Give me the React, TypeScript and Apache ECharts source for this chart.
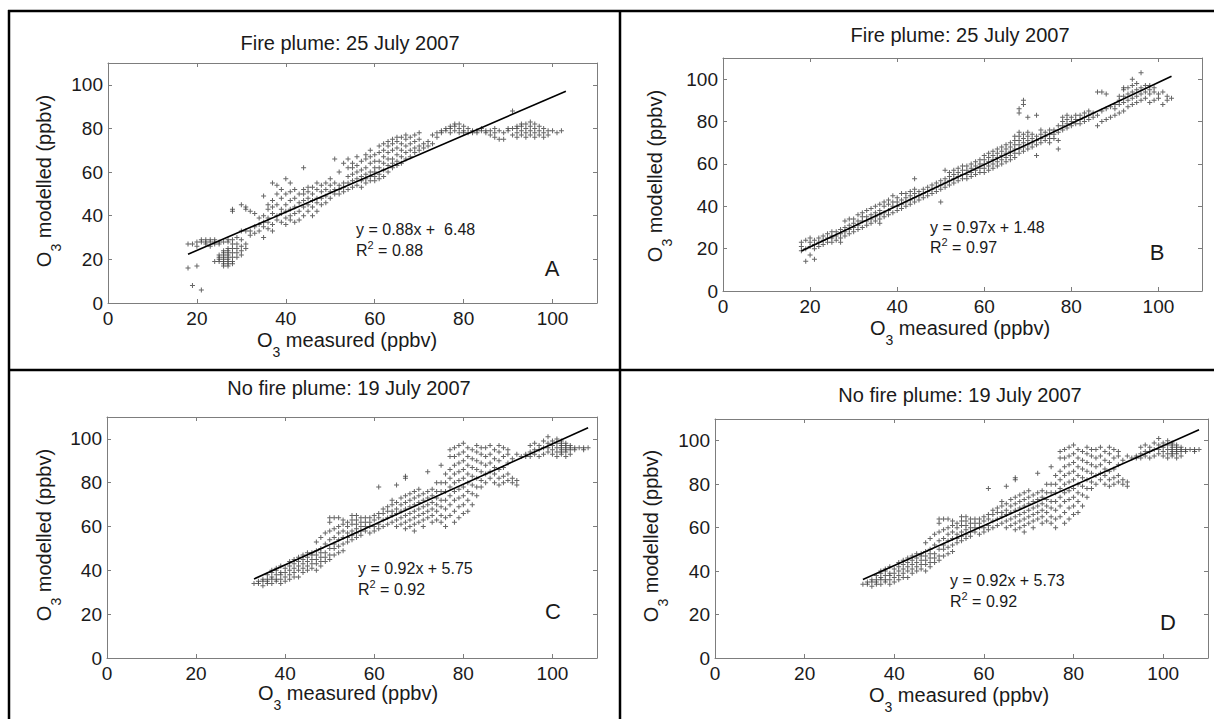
import React, { useEffect, useRef } from "react";
import * as echarts from "echarts";

const FONT = "'Liberation Sans', Arial, Helvetica, sans-serif";

// Axis range / ticks
const AXIS_MIN = 0;
const AXIS_MAX = 110;
const AXIS_STEP = 20;

// Panel texts
const titles = [
  "Fire plume: 25 July 2007",
  "Fire plume: 25 July 2007",
  "No fire plume: 19 July 2007",
  "No fire plume: 19 July 2007",
];
const equations = ["y = 0.88x +  6.48", "y = 0.97x + 1.48", "y = 0.92x + 5.75", "y = 0.92x + 5.73"];
const r2Values = ["0.88", "0.97", "0.92", "0.92"];
const letters = ["A", "B", "C", "D"];

// Measured (x) columns with modelled (y) values
const colsA: [number, number[]][] = [
  [18, [16, 27]], [19, [8, 27]], [20, [17, 26, 28]], [21, [6, 28, 29]], [22, [27, 28, 29]],
  [23, [26, 28, 29]], [24, [19, 27, 28, 29]], [25, [19, 20, 21, 22, 27, 28]],
  [26, [17, 18, 19, 20, 21, 22, 23, 24, 28]], [27, [17, 18, 19, 20, 21, 22, 23, 24, 25, 28, 29]],
  [28, [18, 19, 21, 23, 25, 27, 29, 42, 43]], [29, [21, 23, 25, 27, 30]], [30, [22, 24, 26, 29, 33, 45]],
  [31, [25, 27, 33, 43, 44]], [32, [31, 33, 42]], [33, [32, 35, 41]], [34, [33, 36, 39]],
  [35, [30, 35, 37, 40, 49]], [36, [34, 37, 39, 43, 45]], [37, [33, 36, 41, 44, 47, 55]],
  [38, [38, 40, 45, 50, 54]], [39, [37, 41, 43, 48, 52]], [40, [36, 39, 42, 45, 50, 57]],
  [41, [38, 40, 43, 47, 51, 55]], [42, [37, 41, 44, 48, 52]], [43, [38, 42, 46, 50]],
  [44, [40, 44, 47, 50, 52, 62]], [45, [42, 45, 48, 51, 53]], [46, [40, 44, 47, 50, 53]],
  [47, [42, 46, 48, 52, 55]], [48, [45, 48, 51, 54]], [49, [46, 49, 52, 55]], [50, [48, 51, 54, 57]],
  [51, [50, 52, 55, 66]], [52, [50, 52, 54, 60]], [53, [51, 53, 55, 64]], [54, [52, 55, 58, 62, 66]],
  [55, [53, 56, 59, 62, 64]], [56, [54, 57, 60, 63, 67]], [57, [53, 56, 58, 61, 65]],
  [58, [55, 57, 59, 62, 66, 68]], [59, [56, 58, 60, 64, 67, 70]], [60, [56, 58, 60, 62, 65, 68]],
  [61, [57, 59, 62, 65, 69, 72]], [62, [58, 61, 64, 67, 70, 73]], [63, [60, 63, 66, 69, 72, 74]],
  [64, [62, 64, 66, 70, 73, 75]], [65, [63, 65, 68, 71, 74, 76]], [66, [64, 67, 70, 73, 76]],
  [67, [66, 69, 72, 75, 77]], [68, [67, 70, 73, 76]], [69, [69, 71, 74, 77]], [70, [70, 72, 75, 78]],
  [71, [71, 73]], [72, [72, 74]], [73, [73, 77]], [74, [76, 78]], [75, [78, 79]], [76, [79, 80]],
  [77, [78, 80, 81]], [78, [79, 81, 82]], [79, [78, 80, 82]], [80, [78, 79, 81]], [81, [78, 80]],
  [82, [78, 79]], [83, [78, 79]], [84, [79, 80]], [85, [78, 79]], [86, [77, 79]], [87, [76, 78, 80]],
  [88, [75, 79]], [89, [75, 78]], [90, [79, 80]], [91, [77, 80, 88]], [92, [76, 78, 80, 81]],
  [93, [77, 79, 81, 82]], [94, [76, 78, 80, 82]], [95, [77, 79, 81, 83]], [96, [76, 78, 80, 82]],
  [97, [77, 79, 81]], [98, [76, 78, 80]], [99, [77, 79]], [100, [79]], [101, [78]], [102, [79]],
];

const colsB: [number, number[]][] = [
  [18, [19, 21, 23]], [19, [14, 20, 24]], [20, [17, 21, 23, 25]], [21, [15, 20, 22, 24]], [22, [21, 23, 25]],
  [23, [22, 24, 26]], [24, [23, 25, 27]], [25, [23, 25, 26, 28]], [26, [24, 26, 28]], [27, [23, 25, 27, 29]],
  [28, [26, 28, 30, 33]], [29, [27, 29, 31, 34]], [30, [28, 30, 32, 34]], [31, [29, 31, 33, 36]],
  [32, [30, 33, 35, 37]], [33, [31, 33, 35, 38]], [34, [32, 34, 36, 39]], [35, [33, 35, 37, 40]],
  [36, [32, 34, 36, 38, 41]], [37, [35, 37, 40, 42]], [38, [36, 38, 41, 43]], [39, [37, 40, 42, 45]],
  [40, [38, 40, 42, 44]], [41, [39, 41, 43, 46]], [42, [40, 42, 44, 46]], [43, [41, 43, 45, 47]],
  [44, [42, 44, 46, 48, 53]], [45, [43, 45, 47]], [46, [44, 46, 48]], [47, [45, 47, 49]], [48, [46, 48, 50]],
  [49, [47, 49, 51]], [50, [42, 48, 50, 52]], [51, [49, 51, 53, 57]], [52, [50, 52, 54, 56]],
  [53, [51, 53, 55, 57]], [54, [52, 54, 56, 58]], [55, [53, 55, 57, 59]], [56, [53, 55, 57, 59]],
  [57, [54, 56, 58, 60]], [58, [55, 57, 59, 61]], [59, [56, 58, 60, 62]], [60, [56, 58, 60, 62, 64]],
  [61, [57, 59, 61, 63, 65]], [62, [58, 60, 62, 64, 66]], [63, [59, 61, 63, 65, 67]],
  [64, [60, 62, 64, 66, 68]], [65, [61, 63, 65, 67, 69]], [66, [62, 64, 66, 68, 70]],
  [67, [63, 65, 67, 69, 71, 73]], [68, [65, 67, 69, 71, 73, 75, 84, 86]], [69, [66, 68, 70, 72, 74, 88, 90]],
  [70, [67, 69, 71, 73, 75, 82]], [71, [68, 70, 72, 74]], [72, [64, 69, 71, 73, 83]], [73, [70, 72, 74, 76]],
  [74, [71, 73, 75]], [75, [70, 72, 74, 76]], [76, [72, 74, 76]], [77, [67, 71, 75, 78]],
  [78, [76, 78, 80, 82]], [79, [77, 79, 81, 83]], [80, [78, 80, 82]], [81, [79, 81, 83]], [82, [79, 81, 83]],
  [83, [80, 82, 84]], [84, [81, 83, 85]], [85, [82, 84]], [86, [78, 83, 94]], [87, [80, 85, 94]],
  [88, [81, 86, 93]], [89, [82, 87]], [90, [83, 86, 88]], [91, [84, 88, 90, 92]], [92, [85, 89, 92, 95, 96]],
  [93, [87, 90, 93, 96]], [94, [88, 91, 94, 97, 100]], [95, [89, 92, 95, 98]], [96, [90, 93, 96, 103]],
  [97, [91, 94, 97]], [98, [89, 93, 95, 97]], [99, [90, 94, 96]], [100, [91, 93]], [101, [88, 94]],
  [102, [90, 92]], [103, [91]],
];

const colsC: [number, number[]][] = [
  [33, [34]], [34, [34, 35]], [35, [33, 35, 36]], [36, [34, 35, 36, 38]], [37, [34, 36, 37, 39, 40]],
  [38, [35, 36, 38, 40, 41]], [39, [34, 36, 38, 39, 42]], [40, [35, 37, 39, 41]], [41, [36, 38, 40, 42, 44]],
  [42, [37, 39, 41, 43, 45]], [43, [37, 40, 42, 44, 46]], [44, [39, 41, 43, 45, 47]], [45, [40, 42, 44, 46, 48]],
  [46, [41, 43, 45, 47, 48]], [47, [40, 43, 45, 47, 49, 53]], [48, [42, 44, 46, 48, 50, 55]],
  [49, [44, 46, 48, 52, 57]], [50, [45, 47, 50, 54, 58, 62, 64]], [51, [47, 50, 52, 55, 59, 64]],
  [52, [48, 51, 54, 57, 60, 64]], [53, [49, 52, 55, 58, 61, 63]], [54, [53, 55, 57, 60, 62]],
  [55, [54, 56, 58, 61, 63, 65]], [56, [55, 57, 59, 61, 63, 65]], [57, [56, 58, 60, 62, 64]],
  [58, [58, 60, 62, 64]], [59, [57, 60, 62, 64]], [60, [58, 60, 63, 65]], [61, [59, 61, 64, 66, 78]],
  [62, [60, 63, 66, 68]], [63, [61, 64, 67, 69]], [64, [62, 65, 67, 70, 72]], [65, [60, 63, 66, 68, 71, 79]],
  [66, [61, 64, 67, 70, 73]], [67, [59, 62, 65, 68, 71, 74, 82, 83]], [68, [60, 63, 66, 69, 72, 75]],
  [69, [58, 61, 64, 67, 70, 73, 76]], [70, [62, 65, 68, 71, 74, 77]], [71, [60, 63, 66, 69, 72, 75]],
  [72, [64, 67, 70, 73, 76, 85]], [73, [62, 65, 68, 71, 74, 77]], [74, [63, 67, 70, 73, 76, 80]],
  [75, [62, 65, 69, 72, 76, 80, 88]], [76, [60, 64, 68, 72, 76, 80, 84]],
  [77, [65, 70, 74, 78, 82, 86, 92, 95]], [78, [62, 67, 72, 76, 80, 84, 88, 92, 96]],
  [79, [64, 69, 73, 77, 81, 85, 89, 93, 97]], [80, [66, 70, 74, 78, 82, 86, 90, 94, 98]],
  [81, [67, 72, 76, 80, 84, 88, 92, 96]], [82, [70, 75, 79, 83, 87, 91, 95]],
  [83, [74, 78, 82, 86, 90, 94, 97]], [84, [78, 81, 85, 89, 93, 96]], [85, [80, 84, 88, 92, 96]],
  [86, [82, 85, 89, 93, 97]], [87, [80, 84, 87, 91, 95]], [88, [79, 82, 86, 90, 94, 97]],
  [89, [80, 83, 87, 92, 96]], [90, [81, 84, 89, 93, 95]], [91, [80, 82, 91]], [92, [79, 81, 93]],
  [93, [92]], [94, [92, 93]], [95, [92, 94, 97]], [96, [93, 95, 98]], [97, [92, 95, 97]],
  [98, [93, 96, 99]], [99, [94, 96, 98, 101]], [100, [93, 95, 97, 99]], [101, [92, 94, 96, 98, 100]],
  [102, [93, 94, 95, 96, 97, 98, 99]], [103, [92, 94, 95, 96, 97, 98]], [104, [93, 95, 96, 97]],
  [105, [95, 96]], [106, [96]], [107, [95, 96]], [108, [96]],
];

const colsD: [number, number[]][] = colsC;

// Regression line end points
const fitA = [[18, 22.3], [103, 97.1]];
const fitB = [[18, 18.9], [103, 101.4]];
const fitC = [[33, 36.1], [108, 105.1]];
const fitD = [[33, 36.1], [108, 105.1]];

const panelCols = [colsA, colsB, colsC, colsD];
const panelFits = [fitA, fitB, fitC, fitD];

// Layout (pixels)
const grids = [
  { left: 108, top: 63, width: 489, height: 240 },
  { left: 723, top: 58, width: 479, height: 233 },
  { left: 107, top: 417, width: 490, height: 241 },
  { left: 715, top: 419, width: 493, height: 239 },
];
const titlePos = [[350, 43], [960, 35], [349, 388], [960, 395]];
const xTitlePos = [[347, 340], [960, 328], [348, 693], [959, 695]];
const yTitlePos = [[44, 181], [655, 176], [44, 535], [651, 536]];
const eqPos = [[356, 229, 250], [930, 227, 247], [358, 568, 589], [950, 580, 601]];
const letterPos = [[552, 268], [1157, 252], [553, 611], [1168, 622]];

const PLUS = "path://M2,0H3V2H5V3H3V5H2V3H0V2H2Z";
const AXIS_GRAY = "#7d7d7d";
const TEXT = "#1a1a1a";

function buildOption() {
  const xAxis: any[] = [];
  const yAxis: any[] = [];
  const series: any[] = [];
  const graphic: any[] = [];

  grids.forEach((_, i) => {
    const common = {
      type: "value",
      gridIndex: i,
      min: AXIS_MIN,
      max: AXIS_MAX,
      interval: AXIS_STEP,
      axisLine: { show: true, onZero: false, lineStyle: { color: AXIS_GRAY, width: 1 } },
      axisTick: { show: true, inside: true, length: 4, lineStyle: { color: AXIS_GRAY } },
      splitLine: { show: false },
    };
    const label = {
      show: true,
      fontSize: 19,
      color: TEXT,
      fontFamily: FONT,
      showMaxLabel: false,
    };
    xAxis.push({ ...common, position: "bottom", axisLabel: { ...label, margin: 6 } });
    xAxis.push({ ...common, position: "top", axisLabel: { show: false } });
    yAxis.push({ ...common, position: "left", axisLabel: { ...label, margin: 5 } });
    yAxis.push({ ...common, position: "right", axisLabel: { show: false } });

    const pts: number[][] = [];
    panelCols[i].forEach(([x, ys]) => ys.forEach((y) => pts.push([x, y])));
    series.push({
      type: "scatter",
      xAxisIndex: 2 * i,
      yAxisIndex: 2 * i,
      data: pts,
      symbol: PLUS,
      symbolSize: 5,
      itemStyle: { color: "#404040" },
      silent: true,
      z: 2,
    });
    series.push({
      type: "line",
      xAxisIndex: 2 * i,
      yAxisIndex: 2 * i,
      data: panelFits[i],
      symbol: "none",
      lineStyle: { color: "#000", width: 1.6 },
      silent: true,
      z: 3,
    });

    graphic.push({
      type: "text",
      x: titlePos[i][0],
      y: titlePos[i][1],
      style: { text: titles[i], fontSize: 20, fontFamily: FONT, fill: TEXT, align: "center", verticalAlign: "middle" },
    });
    graphic.push({
      type: "text",
      x: xTitlePos[i][0],
      y: xTitlePos[i][1],
      style: {
        text: "{o|O}{s|3}{o| measured (ppbv)}",
        align: "center",
        verticalAlign: "middle",
        rich: {
          o: { fontSize: 20, fontFamily: FONT, fill: TEXT, lineHeight: 38, verticalAlign: "middle" },
          s: { fontSize: 14, fontFamily: FONT, fill: TEXT, verticalAlign: "bottom" },
        },
      },
    });
    graphic.push({
      type: "text",
      x: yTitlePos[i][0],
      y: yTitlePos[i][1],
      rotation: Math.PI / 2,
      style: {
        text: "{o|O}{s|3}{o| modelled (ppbv)}",
        align: "center",
        verticalAlign: "middle",
        rich: {
          o: { fontSize: 20, fontFamily: FONT, fill: TEXT, lineHeight: 38, verticalAlign: "middle" },
          s: { fontSize: 14, fontFamily: FONT, fill: TEXT, verticalAlign: "bottom" },
        },
      },
    });
    graphic.push({
      type: "text",
      x: eqPos[i][0],
      y: eqPos[i][1],
      style: { text: equations[i], fontSize: 16, fontFamily: FONT, fill: TEXT, align: "left", verticalAlign: "middle" },
    });
    graphic.push({
      type: "text",
      x: eqPos[i][0],
      y: eqPos[i][2],
      style: {
        text: "{r|R}{p|2}{r| = " + r2Values[i] + "}",
        align: "left",
        verticalAlign: "middle",
        rich: {
          r: { fontSize: 16, fontFamily: FONT, fill: TEXT, lineHeight: 22, verticalAlign: "middle" },
          p: { fontSize: 11, fontFamily: FONT, fill: TEXT, verticalAlign: "top" },
        },
      },
    });
    graphic.push({
      type: "text",
      x: letterPos[i][0],
      y: letterPos[i][1],
      style: { text: letters[i], fontSize: 22, fontFamily: FONT, fill: TEXT, align: "center", verticalAlign: "middle" },
    });
  });

  // Figure frame lines
  const frame = { stroke: "#000", lineWidth: 2.5 };
  graphic.push({ type: "line", shape: { x1: 8, y1: 11, x2: 1214, y2: 11 }, style: frame });
  graphic.push({ type: "line", shape: { x1: 9, y1: 10, x2: 9, y2: 719 }, style: frame });
  graphic.push({ type: "line", shape: { x1: 8, y1: 370, x2: 1214, y2: 370 }, style: frame });
  graphic.push({ type: "line", shape: { x1: 620, y1: 10, x2: 620, y2: 719 }, style: frame });

  return {
    animation: false,
    backgroundColor: "#ffffff",
    grid: grids.map((g) => ({ ...g, containLabel: false })),
    xAxis,
    yAxis,
    series,
    graphic,
  };
}

export default function App() {
  const ref = useRef<HTMLDivElement>(null);
  useEffect(() => {
    document.body.style.margin = "0";
    if (!ref.current) return;
    const chart = echarts.init(ref.current, undefined, { renderer: "svg" });
    chart.setOption(buildOption() as any);
    return () => chart.dispose();
  }, []);
  return <div ref={ref} style={{ width: 1214, height: 719 }} />;
}
